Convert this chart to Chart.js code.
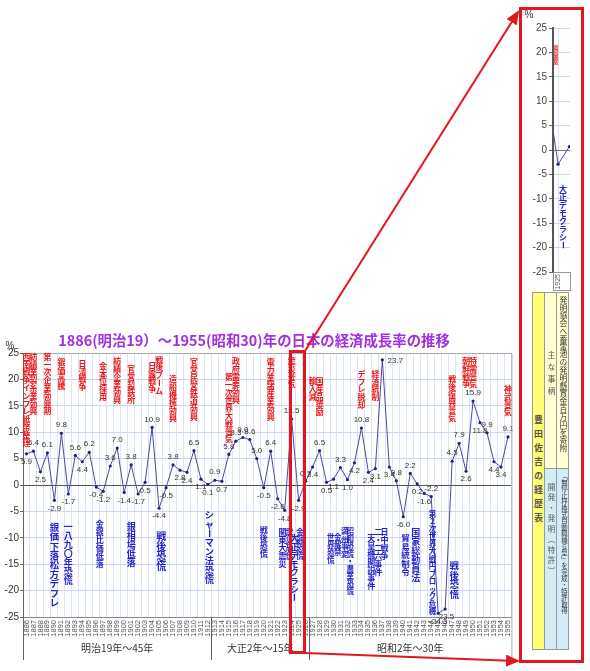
<!DOCTYPE html>
<html lang="ja">
<head>
<meta charset="UTF-8">
<title>日本の経済成長率の推移</title>
<script src="https://cdn.jsdelivr.net/npm/chart.js"></script>
<style>
  body { margin:0; background:#fff; font-family:"Noto Sans CJK JP", sans-serif; }
  #main { position:absolute; left:0; top:330px; }
  #zoom { position:absolute; left:522px; top:8px; }
  .cell { position:absolute; box-sizing:border-box; border:1px solid #9a9a9a; writing-mode:vertical-rl; text-orientation:upright; color:#555; line-height:1; padding-right:1px; }
  .mid { text-align:center; }
  #overlay { position:absolute; left:0; top:0; pointer-events:none; }
</style>
</head>
<body>
<canvas id="main" width="520" height="341"></canvas>
<canvas id="zoom" width="58" height="290"></canvas>

<!-- 豊田佐吉の経歴表 -->
<div class="cell mid" style="left:532px;top:292px;width:13px;height:358px;background:#ffff73;font-size:9px;font-weight:bold;letter-spacing:5px;">豊田佐吉の経歴表</div>
<div class="cell mid" style="left:544px;top:292px;width:13px;height:177px;background:#ffffd2;font-size:8px;letter-spacing:4px;padding-bottom:12px;">主な事柄</div>
<div class="cell mid" style="left:544px;top:468px;width:13px;height:182px;background:#d3ecf8;font-size:7.5px;letter-spacing:3px;padding-bottom:58px;">開発・発明（特許）</div>
<div class="cell" style="left:556px;top:292px;width:13px;height:177px;background:#ffffd2;font-size:7.8px;padding-top:3px;color:#333;">発明協会へ蓄電池の発明懸賞金百万円を寄附</div>
<div class="cell" style="left:556px;top:468px;width:13px;height:182px;background:#d3ecf8;font-size:6.4px;padding-top:4px;color:#333;">「無停止杼換式自動織機G型」を完成・特許取得</div>

<svg id="overlay" width="590" height="671">
  <defs>
    <marker id="ah" markerWidth="14" markerHeight="12" refX="12" refY="6" orient="auto" markerUnits="userSpaceOnUse">
      <path d="M0,0 L14,6 L0,12 z" fill="#e3161e"/>
    </marker>
  </defs>
  <rect x="290.5" y="351.5" width="14" height="301" fill="none" stroke="#e3161e" stroke-width="3"/>
  <rect x="520.5" y="8.5" width="62" height="653" fill="none" stroke="#e3161e" stroke-width="3"/>
  <line x1="305" y1="351" x2="518" y2="12" stroke="#e3161e" stroke-width="2" marker-end="url(#ah)"/>
  <line x1="305" y1="653" x2="518" y2="661" stroke="#e3161e" stroke-width="2" marker-end="url(#ah)"/>
</svg>

<script>
// 年（カテゴリ）
const years = ['1886','1887','1888','1889','1890','1891','1892','1893','1894','1895',
  '1896','1897','1898','1899','1900','1901','1902','1903','1904','1905',
  '1906','1907','1908','1909','1910','1911','1912','1913','1914','1915',
  '1916','1917','1918','1919','1920','1921','1922','1923','1924','1925',
  '1926','1927','1928','1929','1930','1931','1932','1933','1934','1935',
  '1936','1937','1938','1939','1940','1941','1942','1943','1944','1945',
  '1946','1947','1948','1949','1950','1951','1952','1953','1954','1955'];

// 経済成長率 (%)
const growth = [5.9, 6.4, 2.5, 6.1, -2.9, 9.8, -1.7, 5.6, 4.4, 6.2,
  -0.4, -1.2, 3.6, 7.0, -1.4, 3.8, -1.7, 0.5, 10.9, -4.4,
  -0.5, 3.8, 2.8, 2.4, 6.5, 1.1, 0.1, 0.9, 0.7, 5.8,
  8.3, 9.0, 8.6, 5.0, -0.5, 6.4, -2.6, -4.8, 12.5, -2.9,
  0.7, 3.4, 6.5, 0.5, 1.1, 3.3, 1.0, 4.2, 10.8, 2.4,
  3.1, 23.7, 3.4, 0.8, -6.0, 2.2, 0.2, -1.6, -2.2, -24.3,
  -23.5, 4.5, 7.9, 2.6, 15.9, 11.8, 9.9, 4.4, 3.4, 9.1];

const yTicks = [25, 20, 15, 10, 5, 0, -5, -10, -15, -20, -25];

const title = '1886(明治19）～1955(昭和30)年の日本の経済成長率の推移';

// 好況・出来事（上）: [年, 文字, 書き出しの高さ(%)]
const topNotes = [
  [1886, '西南戦争インフレ紙幣整理', 25],
  [1887, '紡績業製糸業勃興', 25],
  [1889, '第一次企業勃興期', 25],
  [1891, '銀価高騰', 24],
  [1894, '日清戦争', 23.7],
  [1897, '金本位採用', 23.3],
  [1899, '紡績企業勃興', 24.2],
  [1901, '官営製鉄所', 22.7],
  [1904, '日露戦争', 23.3],
  [1905, '戦後ブーム', 24.5],
  [1907, '造船機械勃興', 20.8],
  [1910, '官営民営鉄道勃興', 24],
  [1915, '第一次世界大戦景気', 21.2],
  [1916, '政府需要勃興', 24.2],
  [1921, '電力業諸産業勃興', 24],
  [1924, '震災景気', 24.2],
  [1927, '輸入減', 20.4],
  [1928, '国産品奨励', 20.4],
  [1934, 'デフレ脱却', 21.8],
  [1936, '経済統制', 21.8],
  [1947, '戦後復興景気', 20.8],
  [1949, '朝鮮戦争', 24.2],
  [1950, '特需景気', 24.2],
  [1955, '神武景気', 18.9]
];

// 不況・出来事（下）: [年, 文字, 書き出しの高さ(%), 文字サイズ]
const bottomNotes = [
  [1890, '銀価下落松方デフレ', -7.1, 9.4],
  [1892, '一八九〇年恐慌', -7.1, 9],
  [1896.5, '金銀比価低落', -6.7, 8],
  [1901, '銀相場低落', -7.1, 9],
  [1905.3, '戦後恐慌', -8.7, 10],
  [1912.2, 'シャーマン法恐慌', -4.8, 9.2],
  [1920, '戦後恐慌', -7.7, 8],
  [1922.7, '関東大震災', -8.1, 8],
  [1923.7, '震災恐慌', -8.1, 8],
  [1924.4, '大正デモクラシー', -9.2, 8.5],
  [1925.2, '金融恐慌', -8.1, 8],
  [1929.6, '世界恐慌', -9.2, 7.5],
  [1930.6, '金解禁', -9.2, 7.5],
  [1931.6, '満州事変', -8.1, 7.5],
  [1932.4, '昭和恐慌・農業恐慌', -8.1, 7.5],
  [1935.4, '天皇機関説事件', -9.2, 8],
  [1936.4, '二・二六事件', -8.1, 8],
  [1937.3, '日中戦争', -8.1, 8],
  [1940.3, '貿易統制令', -9.2, 8.5],
  [1941.8, '国家総動員法', -8.1, 9],
  [1944.2, '第２次世界大戦円ブロック危機', -4.8, 7.5],
  [1947.3, '戦後恐慌', -14.4, 9.5]
];

// 元号の区切り: [文字, 最初の年, 最後の年]
const eras = [
  ['明治19年～45年', 1886, 1912],
  ['大正2年～15年', 1913, 1926],
  ['昭和2年～30年', 1927, 1955]
];

Chart.defaults.font.family = '"Liberation Sans", "Noto Sans CJK JP", sans-serif';

const JP = '"Noto Sans CJK JP", sans-serif';
const ROT = 'ー～（）「」-';

function vtext(ctx, text, x, y, size, color, bold) {
  ctx.save();
  ctx.font = (bold ? 'bold ' : '') + size + 'px ' + JP;
  ctx.fillStyle = color;
  ctx.textAlign = 'center';
  ctx.textBaseline = 'middle';
  let yy = y + size / 2;
  for (const ch of text) {
    if (ROT.includes(ch)) {
      ctx.save();
      ctx.translate(x, yy);
      ctx.rotate(Math.PI / 2);
      ctx.fillText(ch, 0, 0);
      ctx.restore();
    } else {
      ctx.fillText(ch, x, yy);
    }
    yy += size;
  }
  ctx.restore();
}

const idx = yr => yr - 1886;

// メインチャートの装飾
const decor = {
  id: 'decor',
  afterDatasetsDraw(chart) {
    const ctx = chart.ctx;
    const meta = chart.getDatasetMeta(0);
    const top = chart.chartArea.top;
    ctx.save();
    ctx.font = '8px "Liberation Sans", sans-serif';
    ctx.fillStyle = '#333';
    ctx.textAlign = 'center';
    ctx.textBaseline = 'middle';
    meta.data.forEach((pt, i) => {
      const v = growth[i];
      const nb = [growth[i - 1], growth[i + 1]].filter(n => n !== undefined);
      const avg = nb.reduce((a, b) => a + b, 0) / nb.length;
      const up = v >= avg;
      if (up && pt.y - 8 < top + 5) {
        ctx.fillText(v.toFixed(1), pt.x + 13, pt.y + 1);
      } else {
        ctx.fillText(v.toFixed(1), pt.x, pt.y + (up ? -8 : 8));
      }
    });
    ctx.restore();
  },
  afterDraw(chart) {
    const ctx = chart.ctx;
    const xs = chart.scales.x, ys = chart.scales.y;
    const a = chart.chartArea;

    // 枠と区切り線
    ctx.save();
    ctx.strokeStyle = '#aaa';
    ctx.lineWidth = 1;
    ctx.beginPath();
    ctx.moveTo(a.left, a.top + 0.5); ctx.lineTo(a.right + 0.5, a.top + 0.5);
    ctx.lineTo(a.right + 0.5, 330);
    ctx.stroke();
    ctx.strokeStyle = '#666';
    ctx.beginPath();
    ctx.moveTo(a.left + 0.5, a.bottom); ctx.lineTo(a.left + 0.5, 330);
    eras.slice(1).forEach(e => {
      const x = Math.round((xs.getPixelForValue(idx(e[1])) + xs.getPixelForValue(idx(e[1]) - 1)) / 2) + 0.5;
      ctx.moveTo(x, a.bottom); ctx.lineTo(x, 330);
    });
    ctx.stroke();

    // 元号
    ctx.font = '10px ' + JP;
    ctx.fillStyle = '#333';
    ctx.textAlign = 'center';
    ctx.textBaseline = 'middle';
    eras.forEach(e => {
      const x = (xs.getPixelForValue(idx(e[1])) + xs.getPixelForValue(idx(e[2]))) / 2;
      ctx.fillText(e[0], x, 318);
    });

    // タイトル と %
    ctx.font = 'bold 15px ' + JP;
    let w = ctx.measureText(title).width;
    const sz = Math.min(15, 15 * 392 / w);
    ctx.font = 'bold ' + sz + 'px ' + JP;
    ctx.fillStyle = '#a030e0';
    ctx.fillText(title, 254, 11);
    ctx.font = '10px "Liberation Sans", sans-serif';
    ctx.fillStyle = '#333';
    ctx.fillText('%', 10, 16);
    ctx.restore();

    topNotes.forEach(n => {
      vtext(ctx, n[1], xs.getPixelForValue(idx(n[0])), ys.getPixelForValue(n[2]), 7.8, '#ee1111', true);
    });
    bottomNotes.forEach(n => {
      vtext(ctx, n[1], xs.getPixelForValue(idx(n[0])), ys.getPixelForValue(n[2]), n[3], '#2222cc', true);
    });
  }
};

new Chart(document.getElementById('main'), {
  type: 'line',
  data: {
    labels: years,
    datasets: [{
      data: growth,
      borderColor: '#4a4aa8',
      borderWidth: 1,
      pointRadius: 1.6,
      pointBackgroundColor: '#22227a',
      pointBorderWidth: 0,
      tension: 0
    }]
  },
  options: {
    responsive: false,
    animation: false,
    layout: { padding: { top: 23, right: 7, bottom: 20, left: 0 } },
    plugins: { legend: { display: false }, tooltip: { enabled: false } },
    scales: {
      x: {
        offset: true,
        grid: { color: '#d9e4f5', offset: true, drawTicks: false },
        border: { color: '#888' },
        ticks: { autoSkip: false, maxRotation: 90, minRotation: 90, font: { size: 7.5 }, color: '#555', padding: 3 },
        afterFit(s) { s.height = 34; }
      },
      y: {
        min: -25, max: 25,
        afterBuildTicks(s) { s.ticks = yTicks.map(v => ({ value: v })); },
        ticks: { font: { size: 10 }, color: '#333', padding: 1 },
        grid: {
          color: c => c.tick && c.tick.value === 0 ? '#555' : '#c9d8f0',
          tickColor: '#666',
          tickLength: 3
        },
        border: { color: '#666' },
        afterFit(s) { s.width = 23; }
      }
    }
  },
  plugins: [decor]
});

// 拡大図（1925年）
const zoomDecor = {
  id: 'zoomDecor',
  afterDraw(chart) {
    const ctx = chart.ctx;
    const a = chart.chartArea;
    ctx.save();
    ctx.font = '10px "Liberation Sans", sans-serif';
    ctx.fillStyle = '#333';
    ctx.textAlign = 'center';
    ctx.fillText('%', 7, 10);
    ctx.strokeStyle = '#999';
    ctx.strokeRect(a.left + 0.5, a.bottom + 0.5, a.right - a.left, 18);
    ctx.restore();
    vtext(ctx, '震災景気', a.left + 3, a.top + 17, 5, '#ee1111', true);
    vtext(ctx, '大正デモクラシー', a.left + 10, a.top + 157, 8, '#2222cc', true);
  }
};

new Chart(document.getElementById('zoom'), {
  type: 'line',
  data: {
    datasets: [{
      data: years.map((y, i) => ({ x: +y, y: growth[i] })),
      borderColor: '#4a4aa8',
      borderWidth: 1,
      pointRadius: 1.6,
      pointBackgroundColor: '#22227a',
      pointBorderWidth: 0,
      tension: 0
    }]
  },
  options: {
    responsive: false,
    animation: false,
    layout: { padding: { top: 20, right: 10, bottom: 6, left: 0 } },
    plugins: { legend: { display: false }, tooltip: { enabled: false } },
    scales: {
      x: {
        type: 'linear', min: 1924.55, max: 1926.05,
        afterBuildTicks(s) { s.ticks = [{ value: 1925 }]; },
        ticks: { callback: v => years.find(y => +y === v), maxRotation: 90, minRotation: 90, font: { size: 7 }, color: '#555', padding: 2 },
        grid: { color: '#d9e4f5', drawTicks: false },
        border: { display: false },
        afterFit(s) { s.height = 20; }
      },
      y: {
        min: -25, max: 25,
        afterBuildTicks(s) { s.ticks = yTicks.map(v => ({ value: v })); },
        ticks: { font: { size: 10 }, color: '#444', padding: 2 },
        grid: {
          color: c => c.tick && c.tick.value === 0 ? '#777' : '#c9d8f0',
          tickColor: '#666',
          tickLength: 4
        },
        border: { color: '#555', width: 2 },
        afterFit(s) { s.width = 31; }
      }
    }
  },
  plugins: [zoomDecor]
});
</script>
</body>
</html>
